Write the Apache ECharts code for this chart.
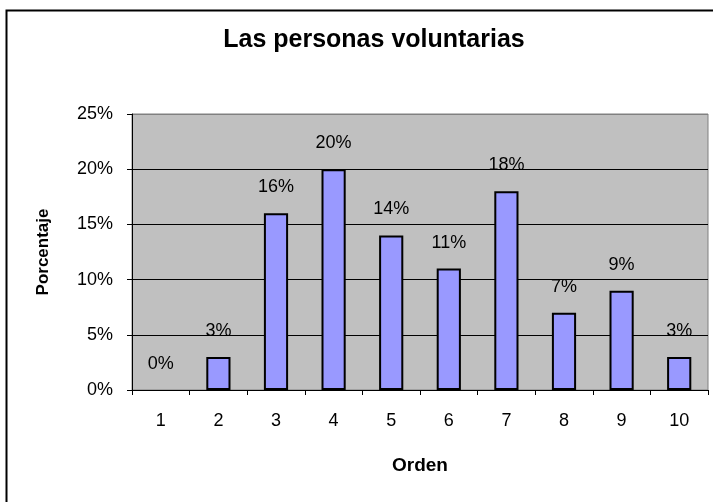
<!DOCTYPE html>
<html>
<head>
<meta charset="UTF-8">
<title>Las personas voluntarias</title>
<script type="text/javascript" src="https://cdn.jsdelivr.net/npm/echarts@6/dist/echarts.min.js"></script>
<style>
	html, body { margin: 0; padding: 0; background: #fff; overflow: hidden; }
	#main { width: 713px; height: 502px; }
</style>
</head>
<body>
	<div id="main"></div>
	<script type="text/javascript">
		// datos
		var orden = ['1', '2', '3', '4', '5', '6', '7', '8', '9', '10'];
		var porcentaje = [0, 3, 16, 20, 14, 11, 18, 7, 9, 3];
		var yTicks = { min: 0, max: 25, step: 5 };

		// una barra de 0% no se ve en el original: sin borde
		var barData = porcentaje.map(function (v) {
			return v === 0 ? { value: v, itemStyle: { borderWidth: 0 } } : v;
		});

		var myChart = echarts.init(document.getElementById('main'));
		var font = '"Liberation Sans", Arial, sans-serif';
		var option = {
			animation: false,
			backgroundColor: '#fff',
			title: {
				text: 'Las personas voluntarias',
				left: 369,
				top: 23,
				textAlign: 'center',
				textStyle: { fontFamily: font, fontSize: 25, fontWeight: 'bold', color: '#000' }
			},
			graphic: [{
				type: 'rect',
				shape: { x: 6.5, y: 10.5, width: 740, height: 520 },
				style: { fill: 'none', stroke: '#000', lineWidth: 2 },
				z: 100
			}],
			grid: {
				left: 132,
				top: 114,
				right: 5,
				bottom: 112,
				show: true,
				backgroundColor: '#C0C0C0',
				borderColor: '#808080',
				borderWidth: 1
			},
			xAxis: {
				type: 'category',
				data: orden,
				name: 'Orden',
				nameLocation: 'middle',
				nameGap: 66,
				nameTextStyle: { fontFamily: font, fontSize: 19, fontWeight: 'bold', color: '#000' },
				axisLine: { lineStyle: { color: '#000', width: 1 } },
				axisTick: { show: true, length: 5, lineStyle: { color: '#000' } },
				axisLabel: { margin: 22, fontFamily: font, fontSize: 18, color: '#000' }
			},
			yAxis: {
				type: 'value',
				min: yTicks.min,
				max: yTicks.max,
				interval: yTicks.step,
				name: 'Porcentaje',
				nameLocation: 'middle',
				nameGap: 80,
				nameTextStyle: { fontFamily: font, fontSize: 17, fontWeight: 'bold', color: '#000' },
				axisLine: { show: true, lineStyle: { color: '#000', width: 1 } },
				axisTick: { show: true, length: 5, lineStyle: { color: '#000' } },
				axisLabel: { margin: 19, formatter: '{value}%', fontFamily: font, fontSize: 18, color: '#000' },
				splitLine: {
					show: true,
					lineStyle: { color: ['#000', '#000', '#000', '#000', '#000', '#808080'], width: 1 }
				}
			},
			series: [{
				name: 'Porcentaje',
				type: 'bar',
				data: barData,
				barWidth: '42%',
				itemStyle: { color: '#9999FF', borderColor: '#000', borderWidth: 2 },
				label: {
					show: true,
					position: 'top',
					distance: 17,
					formatter: '{c}%',
					fontFamily: font,
					fontSize: 18,
					color: '#000'
				}
			}]
		};
		myChart.setOption(option);
	</script>
</body>
</html>
